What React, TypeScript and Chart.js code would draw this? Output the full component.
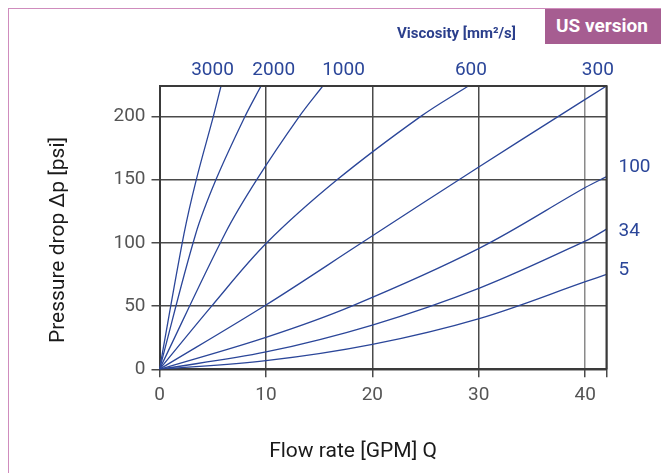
import React, { useEffect, useRef } from "react";
import { Chart, registerables } from "chart.js";

Chart.register(...registerables);

// ---- data ----
const viscosities = ["3000", "2000", "1000", "600", "300", "100", "34", "5"];

const q3000 = [0, 2.3, 3.46, 5.06, 5.78];
const dp3000 = [0, 107, 150, 200, 224];

const q2000 = [0, 3.4, 5.31, 8.04, 9.54];
const dp2000 = [0, 107, 150, 200, 224];

const q1000 = [0, 6.2, 9.14, 13.14, 15.34];
const dp1000 = [0, 108, 150, 200, 224];

const q600 = [0, 4.9, 10.08, 16.71, 24.55, 29.02];
const dp600 = [0, 50, 100, 150, 200, 224];

const q300 = [0, 10, 19.0, 30, 37.48, 42];
const dp300 = [0, 50.8, 100, 160, 200, 224];

const q100 = [0, 10, 18.06, 30.12, 40, 41.96];
const dp100 = [0, 25.3, 50, 96, 143.7, 152.1];

const q34 = [0, 10, 20, 30.12, 40.15, 42];
const dp34 = [0, 13.7, 35, 64.4, 102, 110.8];

const q5 = [0, 10, 20, 30.12, 40.15, 42];
const dp5 = [0, 6.8, 19.7, 40.3, 69.7, 75];

const seriesQ = [q3000, q2000, q1000, q600, q300, q100, q34, q5];
const seriesDp = [dp3000, dp2000, dp1000, dp600, dp300, dp100, dp34, dp5];

const xTicks = [0, 10, 20, 30, 40, 42];
const yTicks = [0, 50, 100, 150, 200];
const xMax = 42;
const yMax = 224;

// ---- layout / style ----
const FONT = "Roboto, 'Noto Sans', sans-serif";
const LINE = "#2b4699";
const GRID = "#4a4a4a";
const BORDER = "#3a3a3a";

// label anchors in axis units (top labels: x value; side labels: y value)
const topLabelAt = [4.98, 10.73, 17.29, 29.26, 41.19];
const sideLabelAt = [160, 109.2, 78.4];

const annotate = {
  id: "annotate",
  afterDraw(chart: any) {
    const { ctx, chartArea, scales } = chart;
    const xs = scales.x;
    const ys = scales.y;
    ctx.save();
    ctx.strokeStyle = BORDER;
    ctx.lineWidth = 2;
    ctx.beginPath();
    ctx.moveTo(chartArea.left, chartArea.top);
    ctx.lineTo(chartArea.right, chartArea.top);
    ctx.lineTo(chartArea.right, chartArea.bottom);
    ctx.stroke();

    ctx.fillStyle = LINE;
    ctx.font = `19px ${FONT}`;
    ctx.textBaseline = "middle";
    ctx.textAlign = "center";
    for (let i = 0; i < 5; i++) {
      ctx.fillText(viscosities[i], xs.getPixelForValue(topLabelAt[i]), chartArea.top - 16);
    }
    ctx.textAlign = "left";
    for (let i = 5; i < 8; i++) {
      ctx.fillText(viscosities[i], chartArea.right + 12, ys.getPixelForValue(sideLabelAt[i - 5]));
    }

    ctx.fillStyle = "#1a1a1a";
    ctx.font = `21px ${FONT}`;
    ctx.textAlign = "center";
    ctx.fillText("Flow rate [GPM] Q", 344, 443);
    ctx.translate(50, 231);
    ctx.rotate(-Math.PI / 2);
    ctx.fillText("Pressure drop Δp [psi]", 0, 0);
    ctx.restore();
  },
};

export default function App() {
  const ref = useRef<HTMLCanvasElement | null>(null);

  useEffect(() => {
    if (!ref.current) return;
    const chart = new Chart(ref.current, {
      type: "line",
      data: {
        datasets: seriesQ.map((q, i) => ({
          label: viscosities[i],
          data: q.map((x, j) => ({ x, y: seriesDp[i][j] })),
          borderColor: LINE,
          borderWidth: 1.3,
          pointRadius: 0,
          fill: false,
          tension: 0.35,
        })),
      },
      options: {
        animation: false,
        responsive: false,
        maintainAspectRatio: false,
        layout: { padding: { top: 77, right: 54.5, left: 0, bottom: 0 } },
        plugins: { legend: { display: false }, tooltip: { enabled: false } },
        scales: {
          x: {
            type: "linear",
            min: 0,
            max: xMax,
            afterBuildTicks: (s: any) => {
              s.ticks = xTicks.map((v) => ({ value: v }));
            },
            afterFit: (s: any) => {
              s.height = 103.7;
            },
            ticks: {
              autoSkip: false,
              maxRotation: 0,
              padding: 7,
              color: "#555",
              font: { family: FONT, size: 19 },
              callback: (v: any) => (v === 42 ? "" : String(v)),
            },
            grid: {
              color: (c: any) => (c.tick && c.tick.value === 40 ? "#8a8a8a" : GRID),
              lineWidth: 1.5,
              tickLength: 8,
              tickColor: GRID,
            },
            border: { color: BORDER, width: 2 },
          },
          y: {
            type: "linear",
            min: 0,
            max: yMax,
            afterBuildTicks: (s: any) => {
              s.ticks = yTicks.map((v) => ({ value: v }));
            },
            afterFit: (s: any) => {
              s.width = 150.5;
            },
            ticks: {
              autoSkip: false,
              padding: 6,
              color: "#555",
              font: { family: FONT, size: 19 },
            },
            grid: { color: GRID, lineWidth: 1.5, tickLength: 8, tickColor: GRID },
            border: { color: BORDER, width: 2 },
          },
        },
      },
      plugins: [annotate],
    });
    return () => chart.destroy();
  }, []);

  return (
    <div
      style={{
        position: "fixed",
        left: 8,
        top: 8,
        width: 653,
        height: 465,
        borderTop: "1px solid #cf8cbd",
        borderLeft: "1px solid #cf8cbd",
        overflow: "hidden",
        background: "#fff",
      }}
    >
      <canvas
        ref={ref}
        width={652}
        height={464}
        style={{ position: "absolute", left: 0, top: 0, width: 652, height: 464 }}
      />
      <div
        style={{
          position: "absolute",
          left: 388,
          top: 14,
          height: 20,
          lineHeight: "20px",
          fontFamily: FONT,
          fontWeight: 700,
          fontSize: 15,
          color: "#2b3f8c",
          whiteSpace: "nowrap",
        }}
      >
        Viscosity [mm²/s]
      </div>
      <div
        style={{
          position: "absolute",
          left: 536,
          top: -1,
          width: 130,
          height: 36,
          background: "#a65d91",
          color: "#fff",
          fontFamily: FONT,
          fontWeight: 700,
          fontSize: 19,
          lineHeight: "36px",
          paddingLeft: 11,
          boxSizing: "border-box",
          whiteSpace: "nowrap",
        }}
      >
        US version
      </div>
    </div>
  );
}
